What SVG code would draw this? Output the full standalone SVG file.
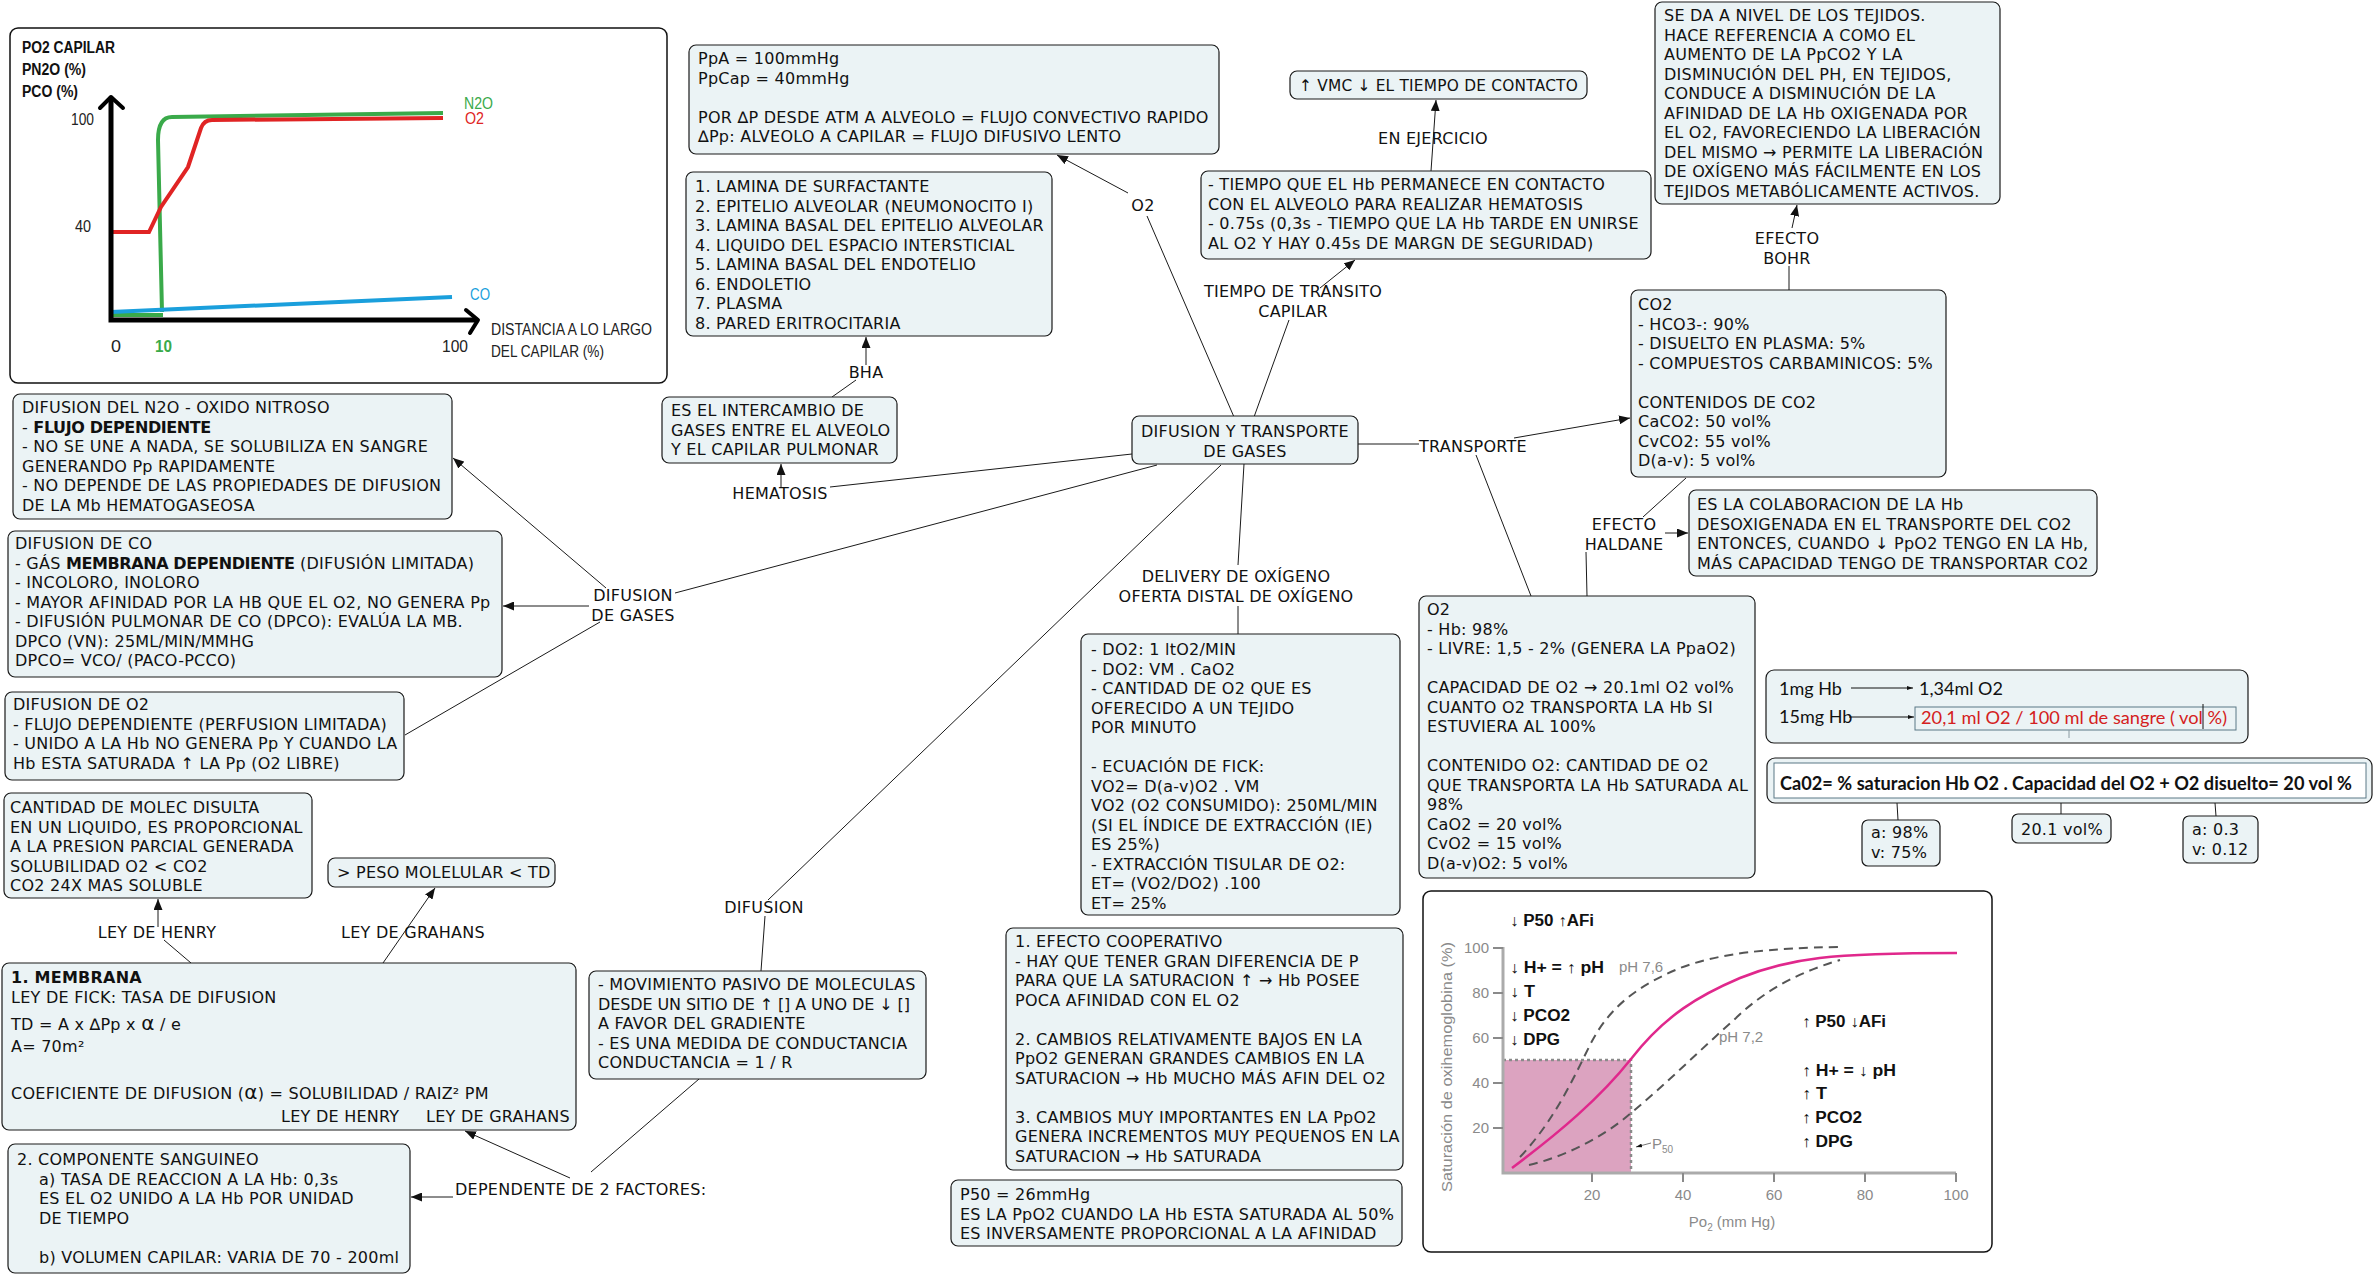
<svg xmlns="http://www.w3.org/2000/svg" width="2374" height="1275" viewBox="0 0 2374 1275">
<defs>
<marker id="ah" viewBox="0 0 11 9" refX="11" refY="4.5" markerWidth="11" markerHeight="9" markerUnits="userSpaceOnUse" orient="auto"><path d="M0,0 L11,4.5 L0,9 z" fill="#111"/></marker>
<marker id="sm" viewBox="0 0 6 4" refX="6" refY="2" markerWidth="6" markerHeight="4" markerUnits="userSpaceOnUse" orient="auto"><path d="M0,0 L6,2 L0,4 z" fill="#111"/></marker>
</defs>
<style>
.n{fill:#ebf3f5;stroke:#1a1a1a;stroke-width:1.2}
.t{font-family:"DejaVu Sans",Verdana,sans-serif;font-size:16px;fill:#111;letter-spacing:0.25px}
.c{text-anchor:middle}
.b{font-weight:bold}
.bn{font-weight:bold;letter-spacing:-0.4px}
.l{stroke:#1a1a1a;stroke-width:1;fill:none}
.a{marker-end:url(#ah)}
.g{font-family:"Liberation Sans",Arial,sans-serif;font-size:16px}
.gb{font-family:"Liberation Sans",Arial,sans-serif;font-size:16px;font-weight:bold;fill:#111}
.gr{font-family:"Liberation Sans",Arial,sans-serif;font-size:15px;fill:#8a8a8a}
.cal{font-family:Lato,"Open Sans",sans-serif;font-size:18px;fill:#111}
</style>
<rect width="2374" height="1275" fill="#fff"/>

<g id="connectors">
<line class="l a" x1="1128" y1="193" x2="1057" y2="155"/>
<line class="l" x1="1234" y1="417" x2="1147" y2="216"/>
<line class="l" x1="1254" y1="417" x2="1289" y2="320"/>
<line class="l a" x1="1320" y1="288" x2="1355" y2="260"/>
<line class="l a" x1="1431" y1="171" x2="1436" y2="100"/>
<line class="l" x1="1358" y1="444" x2="1419" y2="444"/>
<line class="l a" x1="1514" y1="438" x2="1630" y2="418"/>
<line class="l" x1="1476" y1="455" x2="1531" y2="596"/>
<line class="l" x1="1789" y1="290" x2="1789" y2="266"/>
<line class="l a" x1="1792" y1="228" x2="1797" y2="205"/>
<line class="l" x1="1686" y1="478" x2="1643" y2="517"/>
<line class="l" x1="1586" y1="552" x2="1587" y2="596"/>
<line class="l a" x1="1665" y1="533" x2="1688" y2="533"/>
<line class="l" x1="1244" y1="464" x2="1238" y2="565"/>
<line class="l" x1="1238" y1="606" x2="1238" y2="634"/>
<line class="l" x1="1132" y1="454" x2="830" y2="487"/>
<line class="l a" x1="781" y1="487" x2="781" y2="464"/>
<line class="l" x1="832" y1="397" x2="856" y2="380"/>
<line class="l a" x1="866" y1="365" x2="866" y2="337"/>
<line class="l" x1="1157" y1="465" x2="675" y2="593"/>
<line class="l a" x1="606" y1="588" x2="453" y2="458"/>
<line class="l a" x1="589" y1="606" x2="503" y2="606"/>
<line class="l" x1="600" y1="622" x2="405" y2="735"/>
<line class="l" x1="1221" y1="465" x2="768" y2="900"/>
<line class="l" x1="765" y1="916" x2="761" y2="971"/>
<line class="l" x1="699" y1="1079" x2="591" y2="1172"/>
<line class="l a" x1="570" y1="1178" x2="465" y2="1131"/>
<line class="l a" x1="453" y1="1197" x2="411" y2="1197"/>
<line class="l" x1="191" y1="963" x2="164" y2="940"/>
<line class="l a" x1="158" y1="927" x2="158" y2="899"/>
<line class="l a" x1="383" y1="963" x2="435" y2="888"/>
<line class="l" x1="1897" y1="803" x2="1898" y2="820"/>
<line class="l" x1="2061" y1="803" x2="2061" y2="814"/>
<line class="l" x1="2215" y1="803" x2="2216" y2="816"/>
</g>

<g id="graph">
<rect x="10" y="28" width="657" height="355" rx="8" fill="#fff" stroke="#111" stroke-width="1.5"/>
<text class="gb" x="22" y="53" textLength="93" lengthAdjust="spacingAndGlyphs">PO2 CAPILAR</text>
<text class="gb" x="22" y="75" textLength="64" lengthAdjust="spacingAndGlyphs">PN2O (%)</text>
<text class="gb" x="22" y="97" textLength="56" lengthAdjust="spacingAndGlyphs">PCO (%)</text>
<path d="M111,315 L163,315 M162,312 L158,140 Q158,117 172,117 L443,113" fill="none" stroke="#3aaa4a" stroke-width="4"/>
<path d="M111,232 L149,232 L161,207 L188,167 L201,128 Q204,120 212,120 L443,118" fill="none" stroke="#e02424" stroke-width="4"/>
<path d="M111,312 L452,297" fill="none" stroke="#1a9fdc" stroke-width="4"/>
<path d="M111,98 V320 H476" fill="none" stroke="#000" stroke-width="5" stroke-linecap="round"/>
<path d="M100,108 L111,97 L123,108" fill="none" stroke="#000" stroke-width="4" stroke-linecap="round" stroke-linejoin="round"/>
<path d="M466,310 L478,320 L470,333" fill="none" stroke="#000" stroke-width="4" stroke-linecap="round" stroke-linejoin="round"/>
<text class="g" x="71" y="125" textLength="23" lengthAdjust="spacingAndGlyphs" fill="#222" font-size="17">100</text>
<text class="g" x="75" y="232" textLength="16" lengthAdjust="spacingAndGlyphs" fill="#222" font-size="17">40</text>
<text class="g" x="111" y="352" textLength="10" lengthAdjust="spacingAndGlyphs" fill="#222" font-size="17">0</text>
<text class="g" x="155" y="352" textLength="17" lengthAdjust="spacingAndGlyphs" fill="#3aaa4a" font-weight="bold" font-size="17">10</text>
<text class="g" x="442" y="352" textLength="26" lengthAdjust="spacingAndGlyphs" fill="#222" font-size="17">100</text>
<text class="g" x="491" y="335" textLength="161" lengthAdjust="spacingAndGlyphs" fill="#222">DISTANCIA A LO LARGO</text>
<text class="g" x="491" y="357" textLength="113" lengthAdjust="spacingAndGlyphs" fill="#222">DEL CAPILAR (%)</text>
<text class="g" x="464" y="109" textLength="29" lengthAdjust="spacingAndGlyphs" fill="#3aaa4a">N2O</text>
<text class="g" x="465" y="124" textLength="19" lengthAdjust="spacingAndGlyphs" fill="#e02424">O2</text>
<text class="g" x="470" y="300" textLength="20" lengthAdjust="spacingAndGlyphs" fill="#1a9fdc">CO</text>
</g>

<g id="node-ppa">
<rect class="n" x="689" y="45" width="530" height="109" rx="7"/>
<text class="t" y="64"><tspan x="698">PpA = 100mmHg</tspan><tspan x="698" dy="19.5">PpCap = 40mmHg</tspan><tspan x="698" dy="39">POR ∆P DESDE ATM A ALVEOLO = FLUJO CONVECTIVO RAPIDO</tspan><tspan x="698" dy="19.5">∆Pp: ALVEOLO A CAPILAR = FLUJO DIFUSIVO LENTO</tspan></text>
</g>

<g id="node-bha">
<rect class="n" x="686" y="172" width="366" height="164" rx="7"/>
<text class="t" y="192"><tspan x="695">1. LAMINA DE SURFACTANTE</tspan><tspan x="695" dy="19.5">2. EPITELIO ALVEOLAR (NEUMONOCITO I)</tspan><tspan x="695" dy="19.5">3. LAMINA BASAL DEL EPITELIO ALVEOLAR</tspan><tspan x="695" dy="19.5">4. LIQUIDO DEL ESPACIO INTERSTICIAL</tspan><tspan x="695" dy="19.5">5. LAMINA BASAL DEL ENDOTELIO</tspan><tspan x="695" dy="19.5">6. ENDOLETIO</tspan><tspan x="695" dy="19.5">7. PLASMA</tspan><tspan x="695" dy="19.5">8. PARED ERITROCITARIA</tspan></text>
</g>

<g id="node-hematosis">
<rect class="n" x="662" y="397" width="235" height="66" rx="7"/>
<text class="t" y="416"><tspan x="671">ES EL INTERCAMBIO DE</tspan><tspan x="671" dy="19.5">GASES ENTRE EL ALVEOLO</tspan><tspan x="671" dy="19.5">Y EL CAPILAR PULMONAR</tspan></text>
</g>

<g id="node-main">
<rect class="n" x="1132" y="416" width="226" height="48" rx="7"/>
<text class="t c" y="437"><tspan x="1245">DIFUSION Y TRANSPORTE</tspan><tspan x="1245" dy="19.5">DE GASES</tspan></text>
</g>

<g id="node-tiempo">
<rect class="n" x="1201" y="171" width="450" height="88" rx="7"/>
<text class="t" y="190"><tspan x="1208">- TIEMPO QUE EL Hb PERMANECE EN CONTACTO</tspan><tspan x="1208" dy="19.5">CON EL ALVEOLO PARA REALIZAR HEMATOSIS</tspan><tspan x="1208" dy="19.5">- 0.75s (0,3s - TIEMPO QUE LA Hb TARDE EN UNIRSE</tspan><tspan x="1208" dy="19.5">AL O2 Y HAY 0.45s DE MARGN DE SEGURIDAD)</tspan></text>
</g>

<g id="node-vmc">
<rect class="n" x="1290" y="71" width="297" height="28" rx="7"/>
<text class="t" x="1299" y="91" textLength="279" lengthAdjust="spacingAndGlyphs">↑ VMC ↓ EL TIEMPO DE CONTACTO</text>
</g>

<g id="node-bohr">
<rect class="n" x="1655" y="2" width="345" height="202" rx="7"/>
<text class="t" y="21"><tspan x="1664">SE DA A NIVEL DE LOS TEJIDOS.</tspan><tspan x="1664" dy="19.5">HACE REFERENCIA A COMO EL</tspan><tspan x="1664" dy="19.5">AUMENTO DE LA PpCO2 Y LA</tspan><tspan x="1664" dy="19.5">DISMINUCIÓN DEL PH, EN TEJIDOS,</tspan><tspan x="1664" dy="19.5">CONDUCE A DISMINUCIÓN DE LA</tspan><tspan x="1664" dy="19.5">AFINIDAD DE LA Hb OXIGENADA POR</tspan><tspan x="1664" dy="19.5">EL O2, FAVORECIENDO LA LIBERACIÓN</tspan><tspan x="1664" dy="19.5">DEL MISMO → PERMITE LA LIBERACIÓN</tspan><tspan x="1664" dy="19.5">DE OXÍGENO MÁS FÁCILMENTE EN LOS</tspan><tspan x="1664" dy="19.5">TEJIDOS METABÓLICAMENTE ACTIVOS.</tspan></text>
</g>

<g id="node-co2">
<rect class="n" x="1631" y="290" width="315" height="187" rx="7"/>
<text class="t" y="310"><tspan x="1638">CO2</tspan><tspan x="1638" dy="19.5">- HCO3-: 90%</tspan><tspan x="1638" dy="19.5">- DISUELTO EN PLASMA: 5%</tspan><tspan x="1638" dy="19.5">- COMPUESTOS CARBAMINICOS: 5%</tspan><tspan x="1638" dy="39">CONTENIDOS DE CO2</tspan><tspan x="1638" dy="19.5">CaCO2: 50 vol%</tspan><tspan x="1638" dy="19.5">CvCO2: 55 vol%</tspan><tspan x="1638" dy="19.5">D(a-v): 5 vol%</tspan></text>
</g>

<g id="node-haldane">
<rect class="n" x="1689" y="490" width="408" height="86" rx="7"/>
<text class="t" y="510"><tspan x="1697">ES LA COLABORACION DE LA Hb</tspan><tspan x="1697" dy="19.5">DESOXIGENADA EN EL TRANSPORTE DEL CO2</tspan><tspan x="1697" dy="19.5">ENTONCES, CUANDO ↓ PpO2 TENGO EN LA Hb,</tspan><tspan x="1697" dy="19.5">MÁS CAPACIDAD TENGO DE TRANSPORTAR CO2</tspan></text>
</g>

<g id="node-o2">
<rect class="n" x="1419" y="596" width="336" height="282" rx="7"/>
<text class="t" y="615"><tspan x="1427">O2</tspan><tspan x="1427" dy="19.5">- Hb: 98%</tspan><tspan x="1427" dy="19.5">- LIVRE: 1,5 - 2% (GENERA LA PpaO2)</tspan><tspan x="1427" dy="39">CAPACIDAD DE O2 → 20.1ml O2 vol%</tspan><tspan x="1427" dy="19.5">CUANTO O2 TRANSPORTA LA Hb SI</tspan><tspan x="1427" dy="19.5">ESTUVIERA AL 100%</tspan><tspan x="1427" dy="39">CONTENIDO O2: CANTIDAD DE O2</tspan><tspan x="1427" dy="19.5">QUE TRANSPORTA LA Hb SATURADA AL</tspan><tspan x="1427" dy="19.5">98%</tspan><tspan x="1427" dy="19.5">CaO2 = 20 vol%</tspan><tspan x="1427" dy="19.5">CvO2 = 15 vol%</tspan><tspan x="1427" dy="19.5">D(a-v)O2: 5 vol%</tspan></text>
</g>

<g id="node-do2">
<rect class="n" x="1081" y="634" width="319" height="281" rx="7"/>
<text class="t" y="655"><tspan x="1091">- DO2: 1 ltO2/MIN</tspan><tspan x="1091" dy="19.5">- DO2: VM . CaO2</tspan><tspan x="1091" dy="19.5">- CANTIDAD DE O2 QUE ES</tspan><tspan x="1091" dy="19.5">OFERECIDO A UN TEJIDO</tspan><tspan x="1091" dy="19.5">POR MINUTO</tspan><tspan x="1091" dy="39">- ECUACIÓN DE FICK:</tspan><tspan x="1091" dy="19.5">VO2= D(a-v)O2 . VM</tspan><tspan x="1091" dy="19.5">VO2 (O2 CONSUMIDO): 250ML/MIN</tspan><tspan x="1091" dy="19.5">(SI EL ÍNDICE DE EXTRACCIÓN (IE)</tspan><tspan x="1091" dy="19.5">ES 25%)</tspan><tspan x="1091" dy="19.5">- EXTRACCIÓN TISULAR DE O2:</tspan><tspan x="1091" dy="19.5">ET= (VO2/DO2) .100</tspan><tspan x="1091" dy="19.5">ET= 25%</tspan></text>
</g>

<g id="node-movimiento">
<rect class="n" x="589" y="971" width="337" height="108" rx="7"/>
<text class="t" y="990"><tspan x="598">- MOVIMIENTO PASIVO DE MOLECULAS</tspan><tspan x="598" dy="19.5" style="letter-spacing:-0.1px">DESDE UN SITIO DE ↑ [] A UNO DE ↓ []</tspan><tspan x="598" dy="19.5">A FAVOR DEL GRADIENTE</tspan><tspan x="598" dy="19.5">- ES UNA MEDIDA DE CONDUCTANCIA</tspan><tspan x="598" dy="19.5">CONDUCTANCIA = 1 / R</tspan></text>
</g>

<g id="node-sanguineo">
<rect class="n" x="8" y="1144" width="402" height="129" rx="7"/>
<text class="t" y="1165"><tspan x="17">2. COMPONENTE SANGUINEO</tspan><tspan x="39" dy="19.5">a) TASA DE REACCION A LA Hb: 0,3s</tspan><tspan x="39" dy="19.5">ES EL O2 UNIDO A LA Hb POR UNIDAD</tspan><tspan x="39" dy="19.5">DE TIEMPO</tspan><tspan x="39" dy="39">b) VOLUMEN CAPILAR: VARIA DE 70 - 200ml</tspan></text>
</g>

<g id="node-membrana">
<rect class="n" x="2" y="963" width="574" height="167" rx="7"/>
<text class="t b" x="11" y="983">1. MEMBRANA</text>
<text class="t" x="11" y="1003">LEY DE FICK: TASA DE DIFUSION</text>
<text class="t" x="11" y="1030">TD = A x ∆Pp x <tspan font-size="20">α</tspan> / e</text>
<text class="t" x="11" y="1052">A= 70m²</text>
<text class="t" x="11" y="1099">COEFICIENTE DE DIFUSION (<tspan font-size="20">α</tspan>) = SOLUBILIDAD / RAIZ² PM</text>
<text class="t" x="281" y="1122">LEY DE HENRY</text>
<text class="t" x="426" y="1122">LEY DE GRAHANS</text>
</g>

<g id="node-henry">
<rect class="n" x="4" y="793" width="308" height="105" rx="7"/>
<text class="t" y="813"><tspan x="10">CANTIDAD DE MOLEC DISULTA</tspan><tspan x="10" dy="19.5">EN UN LIQUIDO, ES PROPORCIONAL</tspan><tspan x="10" dy="19.5">A LA PRESION PARCIAL GENERADA</tspan><tspan x="10" dy="19.5">SOLUBILIDAD O2 &lt; CO2</tspan><tspan x="10" dy="19.5">CO2 24X MAS SOLUBLE</tspan></text>
</g>

<g id="node-graham">
<rect class="n" x="328" y="858" width="227" height="29" rx="7"/>
<text class="t" x="337" y="878">&gt; PESO MOLELULAR &lt; TD</text>
</g>

<g id="node-n2o">
<rect class="n" x="13" y="394" width="439" height="125" rx="7"/>
<text class="t" y="413"><tspan x="22">DIFUSION DEL N2O - OXIDO NITROSO</tspan><tspan x="22" dy="19.5">- <tspan class="bn">FLUJO DEPENDIENTE</tspan></tspan><tspan x="22" dy="19.5">- NO SE UNE A NADA, SE SOLUBILIZA EN SANGRE</tspan><tspan x="22" dy="19.5">GENERANDO Pp RAPIDAMENTE</tspan><tspan x="22" dy="19.5">- NO DEPENDE DE LAS PROPIEDADES DE DIFUSION</tspan><tspan x="22" dy="19.5">DE LA Mb HEMATOGASEOSA</tspan></text>
</g>

<g id="node-co">
<rect class="n" x="8" y="531" width="494" height="146" rx="7"/>
<text class="t" y="549"><tspan x="15">DIFUSION DE CO</tspan><tspan x="15" dy="19.5">- GÁS <tspan class="bn">MEMBRANA DEPENDIENTE</tspan> (DIFUSIÓN LIMITADA)</tspan><tspan x="15" dy="19.5">- INCOLORO, INOLORO</tspan><tspan x="15" dy="19.5">- MAYOR AFINIDAD POR LA HB QUE EL O2, NO GENERA Pp</tspan><tspan x="15" dy="19.5">- DIFUSIÓN PULMONAR DE CO (DPCO): EVALÚA LA MB.</tspan><tspan x="15" dy="19.5">DPCO (VN): 25ML/MIN/MMHG</tspan><tspan x="15" dy="19.5">DPCO= VCO/ (PACO-PCCO)</tspan></text>
</g>

<g id="node-difo2">
<rect class="n" x="5" y="692" width="399" height="88" rx="7"/>
<text class="t" y="710"><tspan x="13">DIFUSION DE O2</tspan><tspan x="13" dy="19.5">- FLUJO DEPENDIENTE (PERFUSION LIMITADA)</tspan><tspan x="13" dy="19.5">- UNIDO A LA Hb NO GENERA Pp Y CUANDO LA</tspan><tspan x="13" dy="19.5">Hb ESTA SATURADA ↑ LA Pp (O2 LIBRE)</tspan></text>
</g>

<g id="node-hb">
<rect class="n" x="1766" y="670" width="482" height="73" rx="8" stroke-width="1.5"/>
<text class="cal" x="1779" y="695">1mg Hb</text>
<line x1="1851" y1="688" x2="1913" y2="688" stroke="#111" stroke-width="1" marker-end="url(#sm)"/>
<text class="cal" x="1919" y="695">1,34ml O2</text>
<text class="cal" x="1779" y="723">15mg Hb</text>
<line x1="1849" y1="717" x2="1914" y2="717" stroke="#111" stroke-width="1" marker-end="url(#sm)"/>
<rect x="1915" y="707" width="321" height="23" fill="none" stroke="#5b7886" stroke-width="1"/>
<text class="cal" x="1921" y="724" style="fill:#d42020" textLength="306" lengthAdjust="spacingAndGlyphs">20,1 ml O2 / 100 ml de sangre ( vol %)</text>
<line x1="2203" y1="704" x2="2203" y2="729" stroke="#111" stroke-width="1"/>
<line x1="2069" y1="730" x2="2069" y2="738" stroke="#8a9aa2" stroke-width="1"/>
</g>

<g id="node-cao2">
<rect class="n" x="1767" y="758" width="605" height="45" rx="8" stroke-width="1.5"/>
<rect x="1774" y="763" width="592" height="35" fill="#fff" stroke="#5b7886" stroke-width="1"/>
<text class="cal b" x="1780" y="790" textLength="572" lengthAdjust="spacingAndGlyphs">Ca02= % saturacion Hb O2 . Capacidad del O2 + O2 disuelto= 20 vol %</text>
</g>

<g id="node-sat">
<rect class="n" x="1862" y="820" width="78" height="46" rx="6"/>
<text class="t" y="838"><tspan x="1871">a: 98%</tspan><tspan x="1871" dy="19.5">v: 75%</tspan></text>
</g>
<g id="node-cap">
<rect class="n" x="2012" y="814" width="99" height="29" rx="6"/>
<text class="t" x="2021" y="835">20.1 vol%</text>
</g>
<g id="node-dis">
<rect class="n" x="2183" y="816" width="75" height="47" rx="6"/>
<text class="t" y="835"><tspan x="2192">a: 0.3</tspan><tspan x="2192" dy="19.5">v: 0.12</tspan></text>
</g>

<g id="node-coop">
<rect class="n" x="1006" y="928" width="397" height="242" rx="7"/>
<text class="t" y="947"><tspan x="1015">1. EFECTO COOPERATIVO</tspan><tspan x="1015" dy="19.5">- HAY QUE TENER GRAN DIFERENCIA DE P</tspan><tspan x="1015" dy="19.5">PARA QUE LA SATURACION ↑ → Hb POSEE</tspan><tspan x="1015" dy="19.5">POCA AFINIDAD CON EL O2</tspan><tspan x="1015" dy="39">2. CAMBIOS RELATIVAMENTE BAJOS EN LA</tspan><tspan x="1015" dy="19.5">PpO2 GENERAN GRANDES CAMBIOS EN LA</tspan><tspan x="1015" dy="19.5">SATURACION → Hb MUCHO MÁS AFIN DEL O2</tspan><tspan x="1015" dy="39">3. CAMBIOS MUY IMPORTANTES EN LA PpO2</tspan><tspan x="1015" dy="19.5">GENERA INCREMENTOS MUY PEQUENOS EN LA</tspan><tspan x="1015" dy="19.5">SATURACION → Hb SATURADA</tspan></text>
</g>

<g id="node-p50">
<rect class="n" x="951" y="1180" width="451" height="66" rx="7"/>
<text class="t" y="1200"><tspan x="960">P50 = 26mmHg</tspan><tspan x="960" dy="19.5">ES LA PpO2 CUANDO LA Hb ESTA SATURADA AL 50%</tspan><tspan x="960" dy="19.5">ES INVERSAMENTE PROPORCIONAL A LA AFINIDAD</tspan></text>
</g>

<g id="node-chart">
<rect x="1423" y="891" width="569" height="361" rx="8" fill="#fff" stroke="#111" stroke-width="1.5"/>
<rect x="1503" y="1060" width="128" height="113" fill="#dca3c0"/>
<path d="M1503,1060 H1631 V1173" fill="none" stroke="#8a8a8a" stroke-width="2.5" stroke-dasharray="3,3"/>
<path d="M1503,947 V1173 H1956" fill="none" stroke="#ababab" stroke-width="3"/>
<path d="M1493,948 H1503 M1493,993 H1503 M1493,1038 H1503 M1493,1083 H1503 M1493,1128 H1503 M1592,1173 V1182 M1683,1173 V1182 M1774,1173 V1182 M1865,1173 V1182 M1956,1173 V1182" stroke="#8a8a8a" stroke-width="2"/>
<g class="gr" text-anchor="end">
<text x="1489" y="953">100</text><text x="1489" y="998">80</text><text x="1489" y="1043">60</text><text x="1489" y="1088">40</text><text x="1489" y="1133">20</text>
</g>
<g class="gr" text-anchor="middle">
<text x="1592" y="1200">20</text><text x="1683" y="1200">40</text><text x="1774" y="1200">60</text><text x="1865" y="1200">80</text><text x="1956" y="1200">100</text>
<text x="1732" y="1227">Po<tspan font-size="10" dy="4">2</tspan><tspan dy="-4"> (mm Hg)</tspan></text>
<text transform="translate(1452,1067) rotate(-90)" textLength="250" lengthAdjust="spacingAndGlyphs">Saturación de oxihemoglobina (%)</text>
</g>
<path d="M1520,1157 C1555,1120 1575,1075 1590,1045 C1610,1005 1640,985 1680,968 C1720,953 1770,948 1840,947" fill="none" stroke="#555" stroke-width="2" stroke-dasharray="9,6"/>
<path d="M1529,1165 C1560,1158 1600,1140 1631,1113 C1665,1085 1700,1050 1736,1018 C1760,995 1790,975 1840,960" fill="none" stroke="#555" stroke-width="2" stroke-dasharray="9,6"/>
<path d="M1512,1168 C1560,1132 1600,1098 1631,1059 C1665,1015 1700,995 1740,978 C1790,958 1830,953 1957,953" fill="none" stroke="#e0288c" stroke-width="2.5"/>
<text class="gr" x="1619" y="972" font-size="16">pH 7,6</text>
<text class="gr" x="1719" y="1042" font-size="16">pH 7,2</text>
<line x1="1651" y1="1143" x2="1636" y2="1147" stroke="#777" stroke-width="1" marker-end="url(#sm)"/>
<text class="gr" x="1652" y="1149">P<tspan font-size="10" dy="4">50</tspan></text>
<text class="gb" x="1510" y="926" textLength="84" lengthAdjust="spacingAndGlyphs">↓ P50 ↑AFi</text>
<text class="gb" x="1510" y="973" textLength="94" lengthAdjust="spacingAndGlyphs">↓ H+ = ↑ pH</text>
<text class="gb" x="1510" y="997" textLength="25" lengthAdjust="spacingAndGlyphs">↓ T</text>
<text class="gb" x="1510" y="1021" textLength="60" lengthAdjust="spacingAndGlyphs">↓ PCO2</text>
<text class="gb" x="1510" y="1045" textLength="50" lengthAdjust="spacingAndGlyphs">↓ DPG</text>
<text class="gb" x="1802" y="1027" textLength="84" lengthAdjust="spacingAndGlyphs">↑ P50 ↓AFi</text>
<text class="gb" x="1802" y="1076" textLength="94" lengthAdjust="spacingAndGlyphs">↑ H+ = ↓ pH</text>
<text class="gb" x="1802" y="1099" textLength="25" lengthAdjust="spacingAndGlyphs">↑ T</text>
<text class="gb" x="1802" y="1123" textLength="60" lengthAdjust="spacingAndGlyphs">↑ PCO2</text>
<text class="gb" x="1802" y="1147" textLength="51" lengthAdjust="spacingAndGlyphs">↑ DPG</text>
</g>

<g id="labels">
<text class="t c" x="1143" y="211">O2</text>
<text class="t c" x="866" y="378">BHA</text>
<text class="t c" x="780" y="499">HEMATOSIS</text>
<text class="t c" y="297"><tspan x="1293">TIEMPO DE TRANSITO</tspan><tspan x="1293" dy="19.5">CAPILAR</tspan></text>
<text class="t c" x="1433" y="144">EN EJERCICIO</text>
<text class="t c" y="244"><tspan x="1787">EFECTO</tspan><tspan x="1787" dy="19.5">BOHR</tspan></text>
<text class="t c" x="1473" y="452">TRANSPORTE</text>
<text class="t c" y="530"><tspan x="1624">EFECTO</tspan><tspan x="1624" dy="19.5">HALDANE</tspan></text>
<text class="t c" y="582"><tspan x="1236">DELIVERY DE OXÍGENO</tspan><tspan x="1236" dy="19.5">OFERTA DISTAL DE OXÍGENO</tspan></text>
<text class="t c" x="764" y="913">DIFUSION</text>
<text class="t c" y="601"><tspan x="633">DIFUSION</tspan><tspan x="633" dy="19.5">DE GASES</tspan></text>
<text class="t c" x="157" y="938">LEY DE HENRY</text>
<text class="t c" x="413" y="938">LEY DE GRAHANS</text>
<text class="t" x="455" y="1195">DEPENDENTE DE 2 FACTORES:</text>
</g>
</svg>
